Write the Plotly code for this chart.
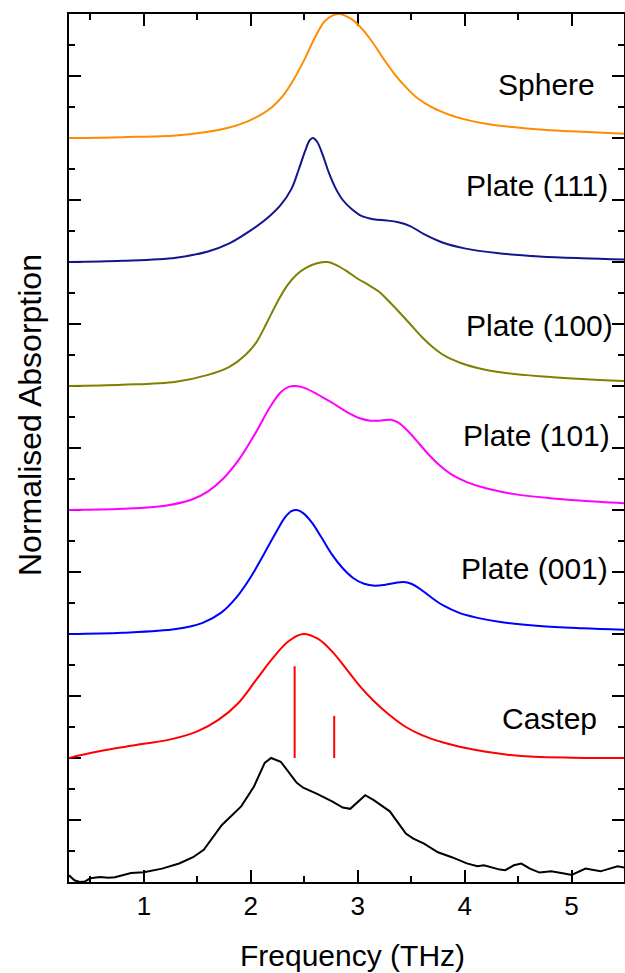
import plotly.graph_objects as go

# ---- data (normalised absorption, each curve offset by 1 unit) ----
sphere_x = [0.30, 0.80, 1.30, 1.60, 1.80, 1.96, 2.10, 2.20, 2.30, 2.40, 2.50, 2.60, 2.70, 2.82, 2.94, 3.04, 3.14, 3.24, 3.34, 3.45, 3.56, 3.70, 3.85, 4.00, 4.20, 4.45, 4.70, 5.00, 5.49]
sphere_y = [0.0, 0.007, 0.02, 0.05, 0.085, 0.13, 0.19, 0.25, 0.34, 0.47, 0.63, 0.81, 0.95, 1.0, 0.96, 0.88, 0.77, 0.64, 0.52, 0.41, 0.32, 0.245, 0.19, 0.15, 0.115, 0.088, 0.068, 0.054, 0.035]

p111_x = [0.30, 0.80, 1.30, 1.60, 1.80, 2.00, 2.15, 2.28, 2.38, 2.45, 2.51, 2.55, 2.58, 2.62, 2.67, 2.73, 2.79, 2.86, 2.94, 3.04, 3.15, 3.27, 3.38, 3.49, 3.62, 3.80, 4.00, 4.30, 4.70, 5.10, 5.49]
p111_y = [0.0, 0.01, 0.035, 0.085, 0.15, 0.255, 0.35, 0.46, 0.59, 0.75, 0.90, 0.98, 1.0, 0.97, 0.87, 0.72, 0.60, 0.50, 0.43, 0.37, 0.345, 0.335, 0.32, 0.29, 0.225, 0.155, 0.11, 0.072, 0.045, 0.03, 0.02]

p100_x = [0.30, 0.80, 1.30, 1.60, 1.80, 1.95, 2.05, 2.15, 2.25, 2.34, 2.43, 2.52, 2.62, 2.72, 2.80, 2.90, 3.00, 3.10, 3.20, 3.30, 3.40, 3.50, 3.60, 3.70, 3.82, 3.95, 4.12, 4.35, 4.70, 5.10, 5.49]
p100_y = [0.0, 0.01, 0.035, 0.09, 0.155, 0.25, 0.35, 0.51, 0.68, 0.81, 0.90, 0.955, 0.99, 1.0, 0.975, 0.925, 0.865, 0.815, 0.76, 0.675, 0.585, 0.49, 0.395, 0.315, 0.24, 0.19, 0.145, 0.108, 0.078, 0.056, 0.04]

p101_x = [0.30, 0.80, 1.20, 1.45, 1.60, 1.75, 1.90, 2.05, 2.18, 2.28, 2.36, 2.42, 2.50, 2.62, 2.76, 2.90, 3.02, 3.12, 3.22, 3.31, 3.38, 3.46, 3.55, 3.65, 3.76, 3.88, 4.02, 4.20, 4.45, 4.80, 5.10, 5.49]
p101_y = [0.0, 0.01, 0.035, 0.085, 0.15, 0.26, 0.42, 0.63, 0.83, 0.95, 0.995, 1.0, 0.985, 0.935, 0.865, 0.79, 0.74, 0.72, 0.722, 0.728, 0.705, 0.645, 0.56, 0.46, 0.365, 0.285, 0.225, 0.175, 0.13, 0.095, 0.075, 0.055]

p001_x = [0.30, 0.80, 1.30, 1.55, 1.72, 1.87, 2.00, 2.12, 2.23, 2.32, 2.38, 2.43, 2.49, 2.57, 2.66, 2.76, 2.86, 2.96, 3.06, 3.16, 3.26, 3.35, 3.43, 3.50, 3.58, 3.68, 3.80, 3.95, 4.12, 4.35, 4.70, 5.10, 5.49]
p001_y = [0.0, 0.01, 0.04, 0.09, 0.17, 0.30, 0.46, 0.64, 0.81, 0.94, 0.99, 1.0, 0.975, 0.90, 0.78, 0.64, 0.53, 0.45, 0.405, 0.39, 0.398, 0.412, 0.42, 0.405, 0.365, 0.30, 0.23, 0.17, 0.13, 0.095, 0.065, 0.047, 0.035]

castep_x = [0.30, 0.50, 0.75, 1.00, 1.25, 1.50, 1.70, 1.88, 2.05, 2.20, 2.35, 2.49, 2.63, 2.77, 2.90, 3.02, 3.15, 3.30, 3.45, 3.60, 3.80, 4.00, 4.20, 4.40, 4.65, 5.00, 5.49]
castep_y = [0.0, 0.04, 0.08, 0.115, 0.15, 0.215, 0.31, 0.44, 0.63, 0.80, 0.94, 1.0, 0.96, 0.85, 0.71, 0.58, 0.46, 0.345, 0.25, 0.185, 0.125, 0.082, 0.05, 0.027, 0.01, 0.003, 0.0]

stick_freqs = [2.41, 2.78]
stick_heights = [0.74, 0.34]

expt_x = [0.30, 0.35, 0.40, 0.45, 0.50, 0.59, 0.67, 0.73, 0.88, 1.00, 1.17, 1.33, 1.46, 1.56, 1.73, 1.91, 2.03, 2.13, 2.19, 2.28, 2.43, 2.49, 2.62, 2.76, 2.86, 2.93, 3.07, 3.15, 3.30, 3.45, 3.52, 3.62, 3.75, 3.88, 4.02, 4.12, 4.18, 4.33, 4.38, 4.46, 4.53, 4.61, 4.70, 4.81, 4.93, 5.00, 5.13, 5.27, 5.43, 5.49]
expt_y = [0.054, 0.014, 0.0, 0.005, 0.03, 0.04, 0.035, 0.038, 0.073, 0.078, 0.108, 0.149, 0.20, 0.26, 0.46, 0.61, 0.77, 0.96, 1.0, 0.97, 0.80, 0.76, 0.71, 0.65, 0.60, 0.59, 0.70, 0.66, 0.57, 0.39, 0.35, 0.31, 0.24, 0.20, 0.15, 0.127, 0.135, 0.10, 0.095, 0.135, 0.149, 0.108, 0.076, 0.086, 0.068, 0.057, 0.108, 0.086, 0.127, 0.116]

labels = ["Sphere", "Plate (111)", "Plate (100)", "Plate (101)", "Plate (001)", "Castep"]
offsets = [6, 5, 4, 3, 2, 1]
colors = ["#FF8C00", "#14148C", "#808000", "#FF00FF", "#0000FF", "#FF0000"]
label_x = [5.24, 5.36, 5.41, 5.38, 5.36, 5.26]
label_y = [6.43, 5.62, 4.49, 3.60, 2.53, 1.32]

series = [(sphere_x, sphere_y), (p111_x, p111_y), (p100_x, p100_y),
          (p101_x, p101_y), (p001_x, p001_y), (castep_x, castep_y)]

FONT = "Liberation Sans, Arial, sans-serif"

fig = go.Figure()
for (xs, ys), off, col in zip(series, offsets, colors):
    fig.add_trace(go.Scatter(x=xs, y=[v + off for v in ys], mode="lines",
                             line=dict(color=col, width=2, shape="spline", smoothing=1.0),
                             showlegend=False, hoverinfo="skip"))

# Castep sticks
sx, sy = [], []
for f, h in zip(stick_freqs, stick_heights):
    sx += [f, f, None]
    sy += [1.0, 1.0 + h, None]
fig.add_trace(go.Scatter(x=sx, y=sy, mode="lines", line=dict(color="#FF0000", width=2),
                         showlegend=False, hoverinfo="skip"))

fig.add_trace(go.Scatter(x=expt_x, y=expt_y, mode="lines",
                         line=dict(color="black", width=2),
                         showlegend=False, hoverinfo="skip"))

for lab, lx, ly in zip(labels, label_x, label_y):
    fig.add_annotation(x=lx, y=ly, xref="x", yref="y", text=lab, showarrow=False,
                       xanchor="right", yanchor="middle",
                       font=dict(family=FONT, size=30, color="black"))

# axis titles
fig.add_annotation(x=-0.0703, y=0.538, xref="paper", yref="paper", text="Normalised Absorption",
                   textangle=-90, showarrow=False, xanchor="center", yanchor="middle",
                   font=dict(family=FONT, size=32, color="black"))
fig.add_annotation(x=0.51, y=-0.0845, xref="paper", yref="paper", text="Frequency (THz)",
                   showarrow=False, xanchor="center", yanchor="middle",
                   font=dict(family=FONT, size=30, color="black"))

axis_common = dict(showline=True, linecolor="black", linewidth=2, mirror="ticks",
                   ticks="inside", tickcolor="black", tickwidth=2, ticklen=12,
                   showgrid=False, zeroline=False, automargin=False, layer="below traces")

fig.update_xaxes(range=[0.3, 5.49], tickmode="array", tickvals=[1, 2, 3, 4, 5],
                 ticktext=["1", "2", "3", "4", "5"],
                 minor=dict(ticks="inside", ticklen=6, tickwidth=2, tickcolor="black",
                            tickvals=[0.5, 1.5, 2.5, 3.5, 4.5], showgrid=False),
                 tickfont=dict(family=FONT, size=26, color="black"),
                 **axis_common)
fig.update_yaxes(range=[0, 7], tickmode="linear", tick0=0, dtick=0.5, showticklabels=False,
                 minor=dict(ticks="inside", ticklen=6, tickwidth=2, tickcolor="black",
                            dtick=0.25, showgrid=False),
                 **axis_common)

fig.update_layout(width=625, height=973, margin=dict(l=69, r=1, t=14, b=91, autoexpand=False),
                  paper_bgcolor="white", plot_bgcolor="white")

fig.write_html("out.html", config={"displayModeBar": False},
               post_script="document.body.style.margin='0';document.body.style.padding='0';"
                           "document.documentElement.style.overflow='hidden';")
